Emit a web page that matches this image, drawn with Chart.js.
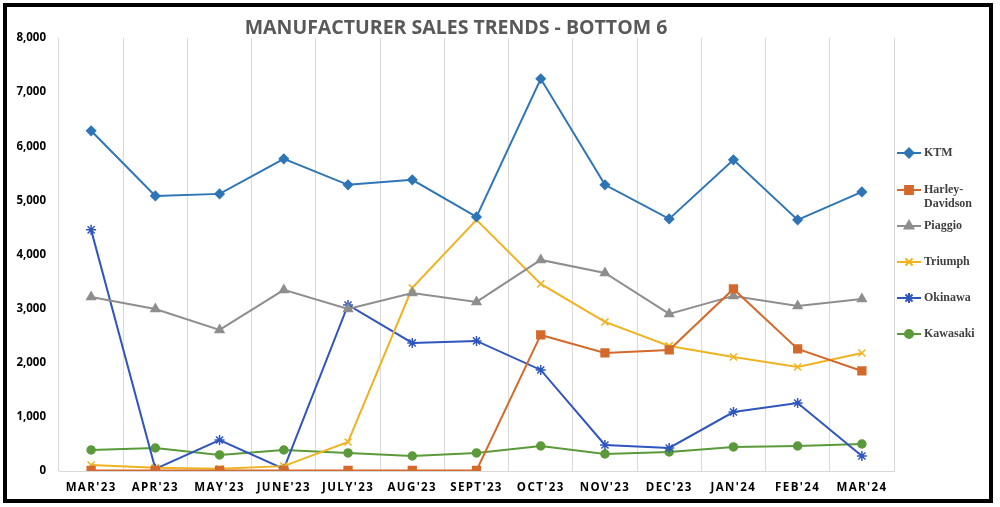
<!DOCTYPE html>
<html>
<head>
<meta charset="utf-8">
<script src="https://cdn.jsdelivr.net/npm/chart.js@4.4.1/dist/chart.umd.min.js"></script>
<style>
  body { margin: 0; background: #ffffff; }
  .frame {
    position: absolute; left: 3px; top: 3px;
    width: 982px; height: 492px;
    border: 4px solid #000000; background: #ffffff;
  }
  canvas { display: block; }
</style>
</head>
<body>
<div class="frame"><canvas id="salesChart" width="982" height="492"></canvas></div>
<script>
  // Chart data
  const months = ["MAR'23", "APR'23", "MAY'23", "JUNE'23", "JULY'23", "AUG'23", "SEPT'23", "OCT'23", "NOV'23", "DEC'23", "JAN'24", "FEB'24", "MAR'24"];
  const ktm = [6285, 5083, 5120, 5767, 5287, 5379, 4695, 7246, 5287, 4658, 5749, 4640, 5157];
  const harley = [10, 10, 10, 10, 10, 10, 10, 2514, 2181, 2237, 3364, 2255, 1848];
  const piaggio = [3216, 2994, 2606, 3346, 2994, 3290, 3124, 3900, 3660, 2902, 3235, 3050, 3179];
  const triumph = [110, 60, 40, 90, 536, 3383, 4640, 3457, 2754, 2311, 2107, 1922, 2181];
  const okinawa = [4455, 40, 573, 40, 3068, 2366, 2403, 1867, 480, 425, 1090, 1257, 277];
  const kawasaki = [388, 425, 296, 388, 333, 277, 333, 462, 314, 351, 444, 462, 499];
  const seriesNames = ['KTM', 'Harley-Davidson', 'Piaggio', 'Triumph', 'Okinawa', 'Kawasaki'];
  const legendLines = [['KTM'], ['Harley-', 'Davidson'], ['Piaggio'], ['Triumph'], ['Okinawa'], ['Kawasaki']];
  const chartTitle = 'MANUFACTURER SALES TRENDS - BOTTOM 6';

  function series(label, data, color, pointStyle, radius) {
    return {
      label: label,
      data: data,
      borderColor: color,
      backgroundColor: color,
      borderWidth: 2,
      pointStyle: pointStyle,
      pointRadius: radius,
      pointBorderWidth: 1.5,
      pointHoverRadius: radius,
      tension: 0
    };
  }

  // Title and the right hand legend (Harley-Davidson wraps onto two lines)
  const decorations = {
    id: 'decorations',
    afterLayout(chart) {
      const x = chart.scales.x;
      if (!x._spaced) {
        const orig = x.drawLabels;
        x.drawLabels = function (area) {
          this.ctx.letterSpacing = '1.4px';
          orig.call(this, area);
          this.ctx.letterSpacing = '0px';
        };
        x._spaced = true;
      }
    },
    afterDraw(chart) {
      const ctx = chart.ctx;
      ctx.save();
      ctx.fillStyle = '#595959';
      ctx.font = 'bold 19.5px "Open Sans"';
      ctx.letterSpacing = '0px';
      ctx.textAlign = 'center';
      ctx.textBaseline = 'middle';
      ctx.fillText(chartTitle, 449, 21);

      const rows = [146, 183, 219, 255, 291, 327];
      ctx.font = 'bold 12px "Liberation Serif"';
      ctx.textAlign = 'left';
      chart.data.datasets.forEach((ds, i) => {
        const y = rows[i];
        ctx.strokeStyle = ds.borderColor;
        ctx.lineWidth = 2;
        ctx.beginPath();
        ctx.moveTo(890, y);
        ctx.lineTo(914, y);
        ctx.stroke();
        ctx.fillStyle = ds.backgroundColor;
        Chart.helpers.drawPoint(ctx, {
          pointStyle: ds.pointStyle, radius: ds.pointRadius, borderWidth: 1.5, rotation: 0
        }, 902, y);
        ctx.fillStyle = '#3f3f3f';
        legendLines[i].forEach((t, j) => ctx.fillText(t, 917, y + j * 14));
      });
      ctx.restore();
    }
  };

  const ctxSales = document.getElementById('salesChart').getContext('2d');
  const salesChart = new Chart(ctxSales, {
    type: 'line',
    data: {
      labels: months,
      datasets: [
        series(seriesNames[0], ktm, '#2e75b6', 'rectRot', 4.5),
        series(seriesNames[1], harley, '#d4692c', 'rect', 5.5),
        series(seriesNames[2], piaggio, '#8e8e8e', 'triangle', 5),
        series(seriesNames[3], triumph, '#efb322', 'crossRot', 5),
        series(seriesNames[4], okinawa, '#2f55be', 'star', 5),
        series(seriesNames[5], kawasaki, '#5b9a3a', 'circle', 4)
      ]
    },
    options: {
      responsive: false,
      animation: false,
      layout: { padding: { top: 31, right: 95, left: 0, bottom: 0 } },
      plugins: {
        legend: { display: false },
        title: { display: false },
        tooltip: { enabled: false }
      },
      scales: {
        x: {
          offset: true,
          grid: { display: true, offset: true, color: '#d9d9d9', lineWidth: 1, drawTicks: false },
          border: { display: true, color: '#d9d9d9' },
          ticks: { color: '#000000', font: { family: 'Open Sans', size: 11.5, weight: 'bold' }, padding: 10, maxRotation: 0, autoSkip: false },
          afterFit(scale) { scale.height = 28; }
        },
        y: {
          min: 0,
          max: 8000,
          grid: { display: false, drawTicks: false },
          border: { display: false },
          ticks: {
            stepSize: 1000,
            color: '#000000',
            padding: 13,
            font: { family: 'Open Sans', size: 11.5, weight: 'bold' },
            callback: (v) => v.toLocaleString('en-US')
          },
          afterFit(scale) { scale.width = 52; }
        }
      }
    },
    plugins: [decorations]
  });
</script>
</body>
</html>
